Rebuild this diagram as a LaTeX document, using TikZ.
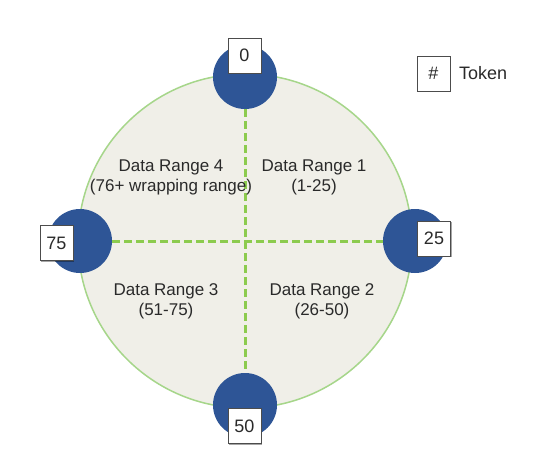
\documentclass[tikz,border=0pt]{standalone}
\usepackage{fontspec}
\setmainfont{Liberation Sans}
\usetikzlibrary{shadows}
\definecolor{ringfill}{HTML}{F0EFE8}
\definecolor{ringline}{HTML}{A6D68A}
\definecolor{splitgreen}{HTML}{8CCB4E}
\definecolor{tokblue}{HTML}{2E5596}
\definecolor{txt}{HTML}{2A2A2A}
\begin{document}
\begin{tikzpicture}[x=1pt,y=-1pt,
  token/.style={circle,fill=tokblue,minimum size=64pt,inner sep=0pt},
  lbl/.style={draw=black!70,line width=0.8pt,fill=white,minimum width=33pt,minimum height=35pt,inner sep=0pt,
    font=\fontsize{18}{18}\selectfont,text=txt,
    drop shadow={shadow xshift=1.2pt,shadow yshift=-1.2pt,opacity=0.35,fill=black}},
  rangetxt/.style={align=center,font=\fontsize{17}{20}\selectfont,text=txt},
  splitline/.style={draw=splitgreen,line width=3pt,dash pattern=on 8pt off 4pt}]
\useasboundingbox (0,0) rectangle (560,472);
\fill[white] (0,0) rectangle (560,472);
% ring
\node[circle,draw=ringline,line width=1.5pt,fill=ringfill,minimum size=334pt,inner sep=0pt] (ring) at (245,241) {};
% token circles
\node[token] (t0) at (245,77) {};
\node[token] (t25) at (415,241) {};
\node[token] (t50) at (245,405) {};
\node[token] (t75) at (80,241) {};
% dividing lines
\draw[splitline] (t0) -- (t50);
\draw[splitline] (t75) -- (t25);
% labels
\node[lbl] (l0) at (244.5,55.5) {0};
\node[lbl] (l25) at (434,238.5) {25};
\node[lbl] (l50) at (244.5,426) {50};
\node[lbl] (l75) at (56.5,243) {75};
% ranges
\node[rangetxt] (r4) at (171,177) {Data Range 4\\(76+ wrapping range)};
\node[rangetxt] (r1) at (314,177) {Data Range 1\\(1-25)};
\node[rangetxt] (r3) at (166,301) {Data Range 3\\(51-75)};
\node[rangetxt] (r2) at (322,301) {Data Range 2\\(26-50)};
% legend
\node[lbl] (leg) at (433.5,73.5) {\#};
\node[anchor=west,font=\fontsize{18}{18}\selectfont,text=txt,inner sep=0pt] (legtxt) at (459,73.5) {Token};
\end{tikzpicture}
\end{document}
